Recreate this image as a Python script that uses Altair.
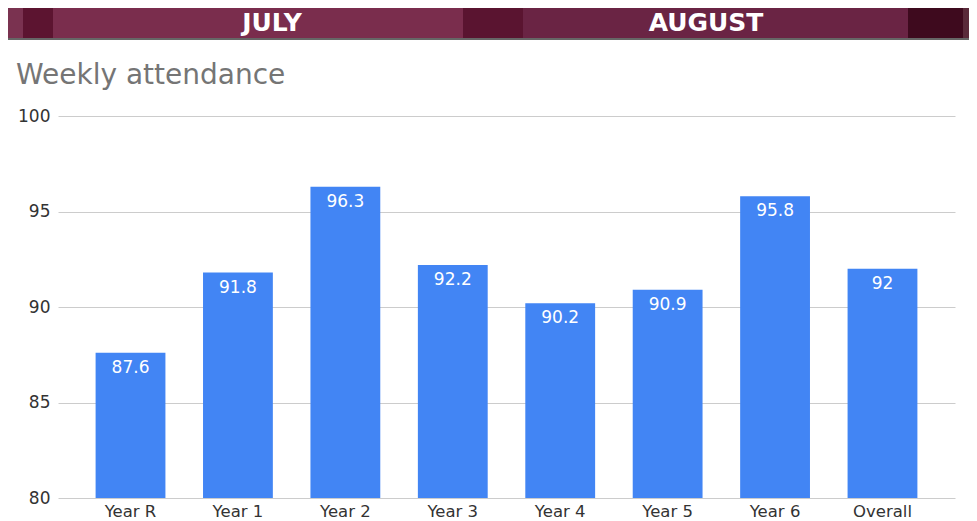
import altair as alt
import pandas as pd

categories = ["Year R", "Year 1", "Year 2", "Year 3", "Year 4", "Year 5", "Year 6", "Overall"]
values = [87.6, 91.8, 96.3, 92.2, 90.2, 90.9, 95.8, 92]
labels = ["87.6", "91.8", "96.3", "92.2", "90.2", "90.9", "95.8", "92"]
y_ticks = [80, 85, 90, 95, 100]

chart_title = "Weekly attendance"
banner_months = ["JULY", "AUGUST"]

df = pd.DataFrame({"cat": categories, "val": values, "lab": labels})

W, H = 897, 382
PT = 108
FONT = "DejaVu Sans"

x = alt.X("cat:N", sort=categories, title=None,
          scale=alt.Scale(paddingInner=0.35, paddingOuter=0.35),
          axis=alt.Axis(labelAngle=0, labelFontSize=16.5, labelColor="#333333",
                        labelFont=FONT, domain=False, ticks=False,
                        labelPadding=5, grid=False))
y = alt.Y("val:Q", title=None,
          scale=alt.Scale(domain=[80, 100], zero=False, nice=False),
          axis=alt.Axis(values=y_ticks, labelFontSize=17,
                        labelColor="#333333", labelFont=FONT,
                        domain=False, ticks=False, labelPadding=8,
                        gridColor="#cccccc", gridWidth=1))

base = alt.Chart(df)
bars = base.mark_bar(color="#4285f4").encode(x=x, y=y, y2=alt.datum(80))
text = base.mark_text(color="white", fontSize=17, font=FONT,
                      baseline="middle", dy=15).encode(
    x=alt.X("cat:N", sort=categories), y="val:Q", text="lab:N")

main = alt.layer(bars, text)

# decorative banner (cropped header in the screenshot)
seg_df = pd.DataFrame({
    "x0": [-50, -35, -5, 405, 465, 850, 905],
    "x1": [-35, -5, 405, 465, 850, 905, 925],
    "c": ["#7a3250", "#5c1430", "#7a2d4d", "#5a1430", "#6a2444", "#3e0a1e", "#5a2a3a"],
})
banner = alt.Chart(seg_df).mark_rect().encode(
    x=alt.X("x0:Q", scale=None, axis=None), x2="x1:Q",
    y=alt.value(-PT), y2=alt.value(-PT + 30),
    color=alt.Color("c:N", scale=None))
banner_line = alt.Chart(seg_df).mark_rule(color="#666666", strokeWidth=2).encode(
    x=alt.value(-50), x2=alt.value(925), y=alt.value(-PT + 31))
months_df = pd.DataFrame({"m": banner_months, "px": [214, 648]})
months = alt.Chart(months_df).mark_text(
    color="white", fontSize=25, fontWeight="bold", font=FONT,
    baseline="alphabetic").encode(
    x=alt.X("px:Q", scale=None, axis=None), y=alt.value(-PT + 23), text="m:N")
title_df = pd.DataFrame({"t": [chart_title]})
title = alt.Chart(title_df).mark_text(
    color="#757575", fontSize=28, font=FONT, align="left",
    baseline="alphabetic").encode(
    x=alt.value(-42), y=alt.value(-32), text="t:N")

deco = alt.layer(banner, banner_line, months, title)

chart = alt.layer(deco, main).resolve_scale(x="independent").properties(
    width=W, height=H,
    autosize=alt.AutoSizeParams(type="none"),
    padding={"left": 50, "top": PT, "right": 14, "bottom": 23},
    background="white",
).configure_view(stroke=None)

chart.save("out.html", embed_options={"renderer": "svg", "actions": False})
